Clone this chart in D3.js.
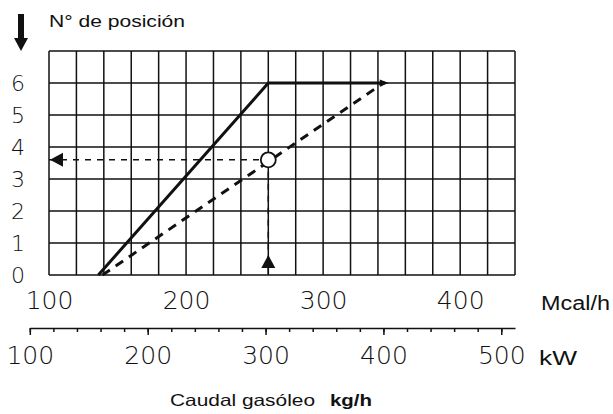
<!DOCTYPE html>
<html>
<head>
<meta charset="utf-8">
<script src="https://cdn.jsdelivr.net/npm/d3@7"></script>
<style>
  body { margin: 0; background: #fff; }
  svg { display: block; }
  .num { font-family: "DejaVu Sans", sans-serif; font-weight: 200; fill: #111; }
  .tit { font-family: "Liberation Sans", Arial, sans-serif; fill: #111; }
</style>
</head>
<body>
<div id="grafica"></div>
<script>
// datos
const posiciones = [0, 1, 2, 3, 4, 5, 6];
const ticksMcal = [100, 200, 300, 400];
const ticksKw = [100, 200, 300, 400, 500];
const lineaContinua = [
  { mcal: 136, pos: 0 },
  { mcal: 260, pos: 6 },
  { mcal: 345, pos: 6 }
];
const lineaDiscontinua = [
  { mcal: 139, pos: 0 },
  { mcal: 344, pos: 6 }
];
const lectura = { mcal: 260, pos: 3.6 };
const kwPorMcal = 1 / 0.86;

const anchoTotal = 613, altoTotal = 414;
const svg = d3.select("#grafica").append("svg")
  .attr("width", anchoTotal).attr("height", altoTotal);

// escalas
const x = d3.scaleLinear().domain([100, 440]).range([49, 515]);
const y = d3.scaleLinear().domain([0, 7]).range([275, 51]);
const xKw = d3.scaleLinear()
  .domain([100, 440 * kwPorMcal])
  .range([x(100 / kwPorMcal), x(440)]);

// cuadricula
const rejilla = svg.append("g").attr("stroke", "#111").attr("stroke-width", 1.5);
rejilla.selectAll(".v").data(d3.range(100, 441, 20)).join("line")
  .attr("x1", d => x(d)).attr("x2", d => x(d))
  .attr("y1", y(0)).attr("y2", y(7));
rejilla.selectAll(".h").data(d3.range(0, 8)).join("line")
  .attr("x1", x(100)).attr("x2", x(440))
  .attr("y1", d => y(d)).attr("y2", d => y(d));

// eje vertical
const ejeY = svg.append("g").attr("transform", `translate(${x(100)},0)`)
  .call(d3.axisLeft(y).tickValues(posiciones).tickFormat(d3.format("d")).tickSize(0).tickPadding(24));
ejeY.select(".domain").remove();
ejeY.selectAll("text").attr("class", "num").style("font-size", "22px");

// eje Mcal/h
const ejeM = svg.append("g").attr("transform", `translate(0,${y(0)})`)
  .call(d3.axisBottom(x).tickValues(ticksMcal).tickSize(0).tickPadding(16));
ejeM.select(".domain").remove();
ejeM.selectAll("text").attr("class", "num").style("font-size", "25px");

// eje kW
const gKw = svg.append("g").attr("transform", "translate(0,328)");
gKw.call(d3.axisBottom(xKw).tickValues(d3.range(100, 512, 20)).tickSize(4).tickSizeOuter(0).tickFormat(""));
gKw.append("g").call(d3.axisBottom(xKw).tickValues(ticksKw).tickSize(7).tickPadding(11))
  .call(g => g.select(".domain").remove());
gKw.selectAll("path, line").attr("stroke", "#111").attr("stroke-width", 1.5);
gKw.selectAll("text").attr("class", "num").style("font-size", "25px");

// lineas
const linea = d3.line().x(d => x(d.mcal)).y(d => y(d.pos));
svg.append("path").datum(lineaContinua).attr("d", linea)
  .attr("fill", "none").attr("stroke", "#111").attr("stroke-width", 3);
svg.append("path").datum(lineaDiscontinua).attr("d", linea)
  .attr("fill", "none").attr("stroke", "#111").attr("stroke-width", 3)
  .attr("stroke-dasharray", "9,7");

// lectura
const px = x(lectura.mcal), py = y(lectura.pos);
svg.append("line").attr("x1", x(100)).attr("x2", px).attr("y1", py).attr("y2", py)
  .attr("stroke", "#111").attr("stroke-width", 1.5).attr("stroke-dasharray", "6,6");
svg.append("line").attr("x1", px).attr("x2", px).attr("y1", py).attr("y2", y(0))
  .attr("stroke", "#111").attr("stroke-width", 1.5).attr("stroke-dasharray", "6,6");
svg.append("circle").attr("cx", px).attr("cy", py).attr("r", 7.5)
  .attr("fill", "#fff").attr("stroke", "#111").attr("stroke-width", 1.8);
svg.append("path")
  .attr("d", `M${x(100) + 1},${py} l13,-7 v14 z`).attr("fill", "#111");
svg.append("path")
  .attr("d", `M${px},${y(0) - 20} l-7,13 h14 z`).attr("fill", "#111");
// punta al final de la linea continua
const fin = lineaContinua[lineaContinua.length - 1];
svg.append("path")
  .attr("d", `M${x(fin.mcal) + 4},${y(fin.pos)} l-9,-3.5 v7 z`).attr("fill", "#111");

// flecha superior
svg.append("path")
  .attr("d", "M18,14 h6 v24 h4 l-7,13 l-7,-13 h4 z").attr("fill", "#111");

// textos
svg.append("text").attr("class", "tit").attr("x", 49).attr("y", 27)
  .style("font-size", "16.5px").attr("textLength", 136).attr("lengthAdjust", "spacingAndGlyphs")
  .text("N° de posición");
svg.append("text").attr("class", "tit").attr("x", 541).attr("y", 310)
  .style("font-size", "20px").attr("textLength", 69).attr("lengthAdjust", "spacingAndGlyphs")
  .text("Mcal/h");
svg.append("text").attr("class", "tit").attr("x", 539).attr("y", 365)
  .style("font-size", "20px").attr("textLength", 38).attr("lengthAdjust", "spacingAndGlyphs")
  .text("kW");
svg.append("text").attr("class", "tit").attr("x", 170).attr("y", 406)
  .style("font-size", "16.5px").attr("textLength", 145).attr("lengthAdjust", "spacingAndGlyphs")
  .text("Caudal gasóleo");
svg.append("text").attr("class", "tit").attr("x", 330).attr("y", 406)
  .style("font-size", "16.5px").style("font-weight", "bold")
  .attr("textLength", 42).attr("lengthAdjust", "spacingAndGlyphs")
  .text("kg/h");
</script>
</body>
</html>
